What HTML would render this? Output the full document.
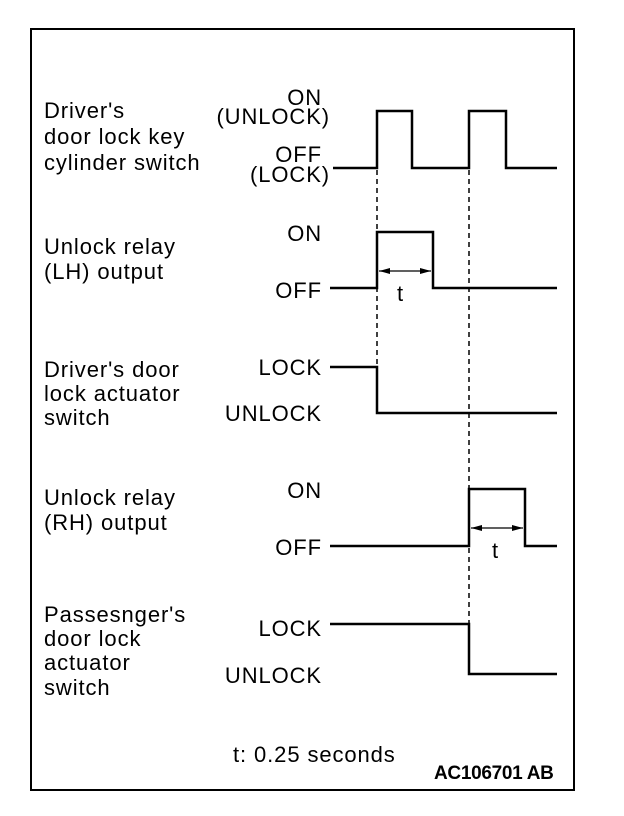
<!DOCTYPE html>
<html><head><meta charset="utf-8"><style>
html,body{margin:0;padding:0;background:#fff;}
svg{display:block;}
text{font-family:"Liberation Sans",Arial,sans-serif;font-size:22px;letter-spacing:0.9px;fill:#000;}
.r{text-anchor:end;}
</style></head><body>
<svg width="624" height="816" viewBox="0 0 624 816" xmlns="http://www.w3.org/2000/svg">
<rect x="31" y="29" width="543" height="761" fill="none" stroke="#000" stroke-width="2"/>
<g>
<text x="44" y="118">Driver's</text>
<text x="44" y="144">door lock key</text>
<text x="44" y="170">cylinder switch</text>
<text x="44" y="254">Unlock relay</text>
<text x="44" y="279">(LH) output</text>
<text x="44" y="377">Driver's door</text>
<text x="44" y="401">lock actuator</text>
<text x="44" y="425">switch</text>
<text x="44" y="505">Unlock relay</text>
<text x="44" y="530">(RH) output</text>
<text x="44" y="622">Passesnger's</text>
<text x="44" y="646">door lock</text>
<text x="44" y="670">actuator</text>
<text x="44" y="695">switch</text>
<text class="r" x="322" y="105">ON</text>
<text class="r" x="330" y="124">(UNLOCK)</text>
<text class="r" x="322" y="162">OFF</text>
<text class="r" x="330" y="182">(LOCK)</text>
<text class="r" x="322" y="241">ON</text>
<text class="r" x="322" y="298">OFF</text>
<text class="r" x="322" y="375">LOCK</text>
<text class="r" x="322" y="421">UNLOCK</text>
<text class="r" x="322" y="498">ON</text>
<text class="r" x="322" y="555">OFF</text>
<text class="r" x="322" y="636">LOCK</text>
<text class="r" x="322" y="683">UNLOCK</text>
<text x="397" y="301">t</text>
<text x="492" y="558">t</text>
<text x="233" y="762">t: 0.25 seconds</text>
<text x="434" y="779" style="font-size:19px;font-weight:bold;letter-spacing:-0.3px">AC106701 AB</text>
</g>
<g fill="none" stroke="#000" stroke-width="2.5">
<polyline points="333,168 377,168 377,111 412,111 412,168 469,168 469,111 506,111 506,168 557,168"/>
<polyline points="330,288 377,288 377,232 433,232 433,288 557,288"/>
<polyline points="330,367 377,367 377,413 557,413"/>
<polyline points="330,546 469,546 469,489 525,489 525,546 557,546"/>
<polyline points="330,624 469,624 469,674 557,674"/>
</g>
<g stroke="#000" stroke-width="1.5" stroke-dasharray="5,4">
<line x1="377" y1="170" x2="377" y2="366"/>
<line x1="469" y1="170" x2="469" y2="623"/>
</g>
<g stroke="#000" stroke-width="1.2">
<line x1="379" y1="271" x2="431" y2="271"/>
<line x1="471" y1="528" x2="523" y2="528"/>
</g>
<g fill="#000">
<polygon points="379,271 390,268 390,274"/>
<polygon points="431,271 420,268 420,274"/>
<polygon points="471,528 482,525 482,531"/>
<polygon points="523,528 512,525 512,531"/>
</g>
</svg>
</body></html>
